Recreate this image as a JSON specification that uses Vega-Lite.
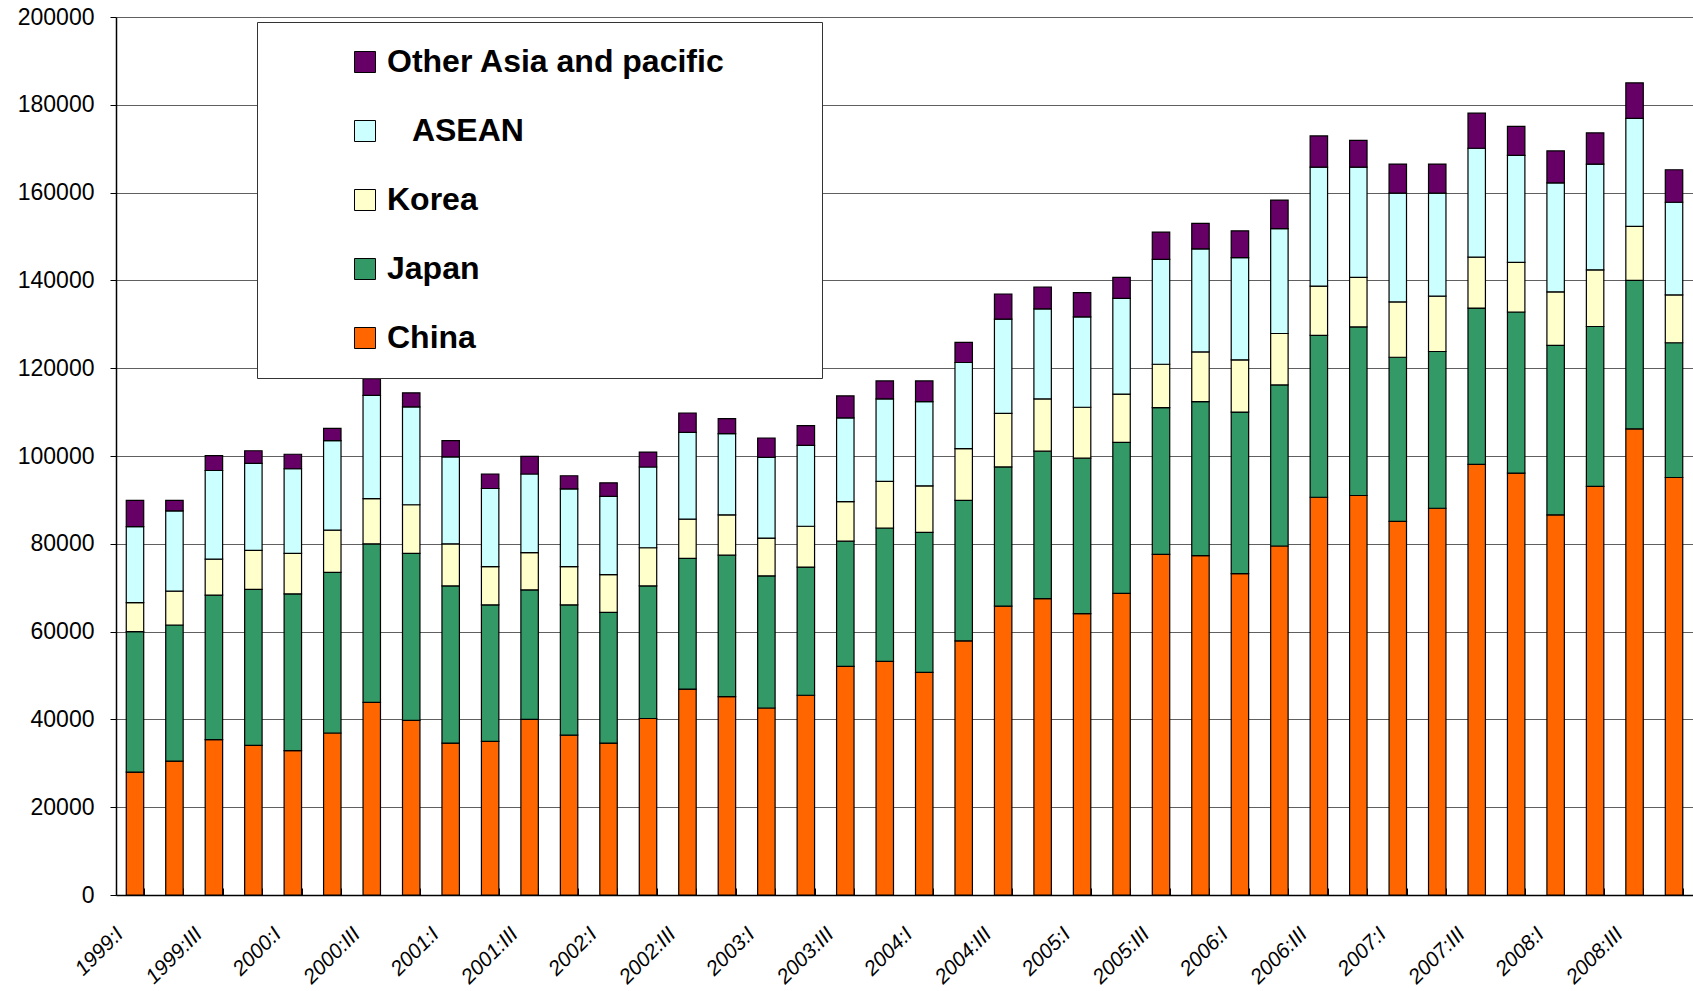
{
"$schema": "https://vega.github.io/schema/vega-lite/v6.json",
"autosize": {"type": "none"},
"padding": {"left": 116, "top": 17, "right": 0, "bottom": 96},
"width": 1577,
"height": 878,
"background": "#ffffff",
"config": {"view": {"stroke": null}},
"data": {"values": [
{"q":"1999:I","region":"China","v":28000},{"q":"1999:I","region":"Japan","v":32000},{"q":"1999:I","region":"Korea","v":6600},{"q":"1999:I","region":"ASEAN","v":17300},{"q":"1999:I","region":"Other Asia and pacific","v":6000},
{"q":"1999:II","region":"China","v":30500},{"q":"1999:II","region":"Japan","v":31000},{"q":"1999:II","region":"Korea","v":7700},{"q":"1999:II","region":"ASEAN","v":18300},{"q":"1999:II","region":"Other Asia and pacific","v":2400},
{"q":"1999:III","region":"China","v":35400},{"q":"1999:III","region":"Japan","v":32900},{"q":"1999:III","region":"Korea","v":8200},{"q":"1999:III","region":"ASEAN","v":20200},{"q":"1999:III","region":"Other Asia and pacific","v":3400},
{"q":"1999:IV","region":"China","v":34100},{"q":"1999:IV","region":"Japan","v":35500},{"q":"1999:IV","region":"Korea","v":8900},{"q":"1999:IV","region":"ASEAN","v":19800},{"q":"1999:IV","region":"Other Asia and pacific","v":2900},
{"q":"2000:I","region":"China","v":32900},{"q":"2000:I","region":"Japan","v":35700},{"q":"2000:I","region":"Korea","v":9200},{"q":"2000:I","region":"ASEAN","v":19300},{"q":"2000:I","region":"Other Asia and pacific","v":3300},
{"q":"2000:II","region":"China","v":36900},{"q":"2000:II","region":"Japan","v":36600},{"q":"2000:II","region":"Korea","v":9600},{"q":"2000:II","region":"ASEAN","v":20400},{"q":"2000:II","region":"Other Asia and pacific","v":2800},
{"q":"2000:III","region":"China","v":43900},{"q":"2000:III","region":"Japan","v":36100},{"q":"2000:III","region":"Korea","v":10300},{"q":"2000:III","region":"ASEAN","v":23500},{"q":"2000:III","region":"Other Asia and pacific","v":3800},
{"q":"2000:IV","region":"China","v":39800},{"q":"2000:IV","region":"Japan","v":38000},{"q":"2000:IV","region":"Korea","v":11100},{"q":"2000:IV","region":"ASEAN","v":22300},{"q":"2000:IV","region":"Other Asia and pacific","v":3200},
{"q":"2001:I","region":"China","v":34600},{"q":"2001:I","region":"Japan","v":35800},{"q":"2001:I","region":"Korea","v":9600},{"q":"2001:I","region":"ASEAN","v":19800},{"q":"2001:I","region":"Other Asia and pacific","v":3700},
{"q":"2001:II","region":"China","v":35000},{"q":"2001:II","region":"Japan","v":31100},{"q":"2001:II","region":"Korea","v":8700},{"q":"2001:II","region":"ASEAN","v":17800},{"q":"2001:II","region":"Other Asia and pacific","v":3300},
{"q":"2001:III","region":"China","v":40000},{"q":"2001:III","region":"Japan","v":29500},{"q":"2001:III","region":"Korea","v":8500},{"q":"2001:III","region":"ASEAN","v":17900},{"q":"2001:III","region":"Other Asia and pacific","v":4000},
{"q":"2001:IV","region":"China","v":36400},{"q":"2001:IV","region":"Japan","v":29700},{"q":"2001:IV","region":"Korea","v":8700},{"q":"2001:IV","region":"ASEAN","v":17700},{"q":"2001:IV","region":"Other Asia and pacific","v":3000},
{"q":"2002:I","region":"China","v":34600},{"q":"2002:I","region":"Japan","v":29800},{"q":"2002:I","region":"Korea","v":8600},{"q":"2002:I","region":"ASEAN","v":17800},{"q":"2002:I","region":"Other Asia and pacific","v":3100},
{"q":"2002:II","region":"China","v":40200},{"q":"2002:II","region":"Japan","v":30200},{"q":"2002:II","region":"Korea","v":8700},{"q":"2002:II","region":"ASEAN","v":18400},{"q":"2002:II","region":"Other Asia and pacific","v":3400},
{"q":"2002:III","region":"China","v":46900},{"q":"2002:III","region":"Japan","v":29800},{"q":"2002:III","region":"Korea","v":8900},{"q":"2002:III","region":"ASEAN","v":19800},{"q":"2002:III","region":"Other Asia and pacific","v":4400},
{"q":"2002:IV","region":"China","v":45200},{"q":"2002:IV","region":"Japan","v":32200},{"q":"2002:IV","region":"Korea","v":9200},{"q":"2002:IV","region":"ASEAN","v":18500},{"q":"2002:IV","region":"Other Asia and pacific","v":3400},
{"q":"2003:I","region":"China","v":42600},{"q":"2003:I","region":"Japan","v":30100},{"q":"2003:I","region":"Korea","v":8600},{"q":"2003:I","region":"ASEAN","v":18400},{"q":"2003:I","region":"Other Asia and pacific","v":4400},
{"q":"2003:II","region":"China","v":45500},{"q":"2003:II","region":"Japan","v":29200},{"q":"2003:II","region":"Korea","v":9300},{"q":"2003:II","region":"ASEAN","v":18400},{"q":"2003:II","region":"Other Asia and pacific","v":4500},
{"q":"2003:III","region":"China","v":52100},{"q":"2003:III","region":"Japan","v":28500},{"q":"2003:III","region":"Korea","v":9000},{"q":"2003:III","region":"ASEAN","v":19100},{"q":"2003:III","region":"Other Asia and pacific","v":5000},
{"q":"2003:IV","region":"China","v":53200},{"q":"2003:IV","region":"Japan","v":30400},{"q":"2003:IV","region":"Korea","v":10600},{"q":"2003:IV","region":"ASEAN","v":18800},{"q":"2003:IV","region":"Other Asia and pacific","v":4100},
{"q":"2004:I","region":"China","v":50700},{"q":"2004:I","region":"Japan","v":31900},{"q":"2004:I","region":"Korea","v":10600},{"q":"2004:I","region":"ASEAN","v":19200},{"q":"2004:I","region":"Other Asia and pacific","v":4700},
{"q":"2004:II","region":"China","v":57900},{"q":"2004:II","region":"Japan","v":32000},{"q":"2004:II","region":"Korea","v":11800},{"q":"2004:II","region":"ASEAN","v":19600},{"q":"2004:II","region":"Other Asia and pacific","v":4600},
{"q":"2004:III","region":"China","v":65800},{"q":"2004:III","region":"Japan","v":31700},{"q":"2004:III","region":"Korea","v":12200},{"q":"2004:III","region":"ASEAN","v":21500},{"q":"2004:III","region":"Other Asia and pacific","v":5700},
{"q":"2004:IV","region":"China","v":67500},{"q":"2004:IV","region":"Japan","v":33600},{"q":"2004:IV","region":"Korea","v":11900},{"q":"2004:IV","region":"ASEAN","v":20500},{"q":"2004:IV","region":"Other Asia and pacific","v":5000},
{"q":"2005:I","region":"China","v":64100},{"q":"2005:I","region":"Japan","v":35400},{"q":"2005:I","region":"Korea","v":11600},{"q":"2005:I","region":"ASEAN","v":20600},{"q":"2005:I","region":"Other Asia and pacific","v":5500},
{"q":"2005:II","region":"China","v":68700},{"q":"2005:II","region":"Japan","v":34400},{"q":"2005:II","region":"Korea","v":11000},{"q":"2005:II","region":"ASEAN","v":21800},{"q":"2005:II","region":"Other Asia and pacific","v":4800},
{"q":"2005:III","region":"China","v":77600},{"q":"2005:III","region":"Japan","v":33400},{"q":"2005:III","region":"Korea","v":9900},{"q":"2005:III","region":"ASEAN","v":23900},{"q":"2005:III","region":"Other Asia and pacific","v":6200},
{"q":"2005:IV","region":"China","v":77300},{"q":"2005:IV","region":"Japan","v":35100},{"q":"2005:IV","region":"Korea","v":11300},{"q":"2005:IV","region":"ASEAN","v":23500},{"q":"2005:IV","region":"Other Asia and pacific","v":5800},
{"q":"2006:I","region":"China","v":73200},{"q":"2006:I","region":"Japan","v":36800},{"q":"2006:I","region":"Korea","v":11900},{"q":"2006:I","region":"ASEAN","v":23300},{"q":"2006:I","region":"Other Asia and pacific","v":6100},
{"q":"2006:II","region":"China","v":79500},{"q":"2006:II","region":"Japan","v":36700},{"q":"2006:II","region":"Korea","v":11700},{"q":"2006:II","region":"ASEAN","v":23900},{"q":"2006:II","region":"Other Asia and pacific","v":6500},
{"q":"2006:III","region":"China","v":90600},{"q":"2006:III","region":"Japan","v":36900},{"q":"2006:III","region":"Korea","v":11200},{"q":"2006:III","region":"ASEAN","v":27100},{"q":"2006:III","region":"Other Asia and pacific","v":7100},
{"q":"2006:IV","region":"China","v":91000},{"q":"2006:IV","region":"Japan","v":38400},{"q":"2006:IV","region":"Korea","v":11300},{"q":"2006:IV","region":"ASEAN","v":25100},{"q":"2006:IV","region":"Other Asia and pacific","v":6100},
{"q":"2007:I","region":"China","v":85100},{"q":"2007:I","region":"Japan","v":37400},{"q":"2007:I","region":"Korea","v":12600},{"q":"2007:I","region":"ASEAN","v":24800},{"q":"2007:I","region":"Other Asia and pacific","v":6600},
{"q":"2007:II","region":"China","v":88100},{"q":"2007:II","region":"Japan","v":35700},{"q":"2007:II","region":"Korea","v":12600},{"q":"2007:II","region":"ASEAN","v":23500},{"q":"2007:II","region":"Other Asia and pacific","v":6600},
{"q":"2007:III","region":"China","v":98100},{"q":"2007:III","region":"Japan","v":35600},{"q":"2007:III","region":"Korea","v":11600},{"q":"2007:III","region":"ASEAN","v":24800},{"q":"2007:III","region":"Other Asia and pacific","v":8000},
{"q":"2007:IV","region":"China","v":96100},{"q":"2007:IV","region":"Japan","v":36700},{"q":"2007:IV","region":"Korea","v":11300},{"q":"2007:IV","region":"ASEAN","v":24400},{"q":"2007:IV","region":"Other Asia and pacific","v":6600},
{"q":"2008:I","region":"China","v":86600},{"q":"2008:I","region":"Japan","v":38600},{"q":"2008:I","region":"Korea","v":12200},{"q":"2008:I","region":"ASEAN","v":24800},{"q":"2008:I","region":"Other Asia and pacific","v":7300},
{"q":"2008:II","region":"China","v":93100},{"q":"2008:II","region":"Japan","v":36400},{"q":"2008:II","region":"Korea","v":12900},{"q":"2008:II","region":"ASEAN","v":24100},{"q":"2008:II","region":"Other Asia and pacific","v":7100},
{"q":"2008:III","region":"China","v":106200},{"q":"2008:III","region":"Japan","v":33800},{"q":"2008:III","region":"Korea","v":12300},{"q":"2008:III","region":"ASEAN","v":24600},{"q":"2008:III","region":"Other Asia and pacific","v":8100},
{"q":"2008:IV","region":"China","v":95100},{"q":"2008:IV","region":"Japan","v":30700},{"q":"2008:IV","region":"Korea","v":10900},{"q":"2008:IV","region":"ASEAN","v":21100},{"q":"2008:IV","region":"Other Asia and pacific","v":7400}
]},
"transform": [{"calculate": "indexof(['China','Japan','Korea','ASEAN','Other Asia and pacific'], datum.region)", "as": "ord"}],
"mark": {"type": "bar", "stroke": "#000000", "strokeWidth": 1.2},
"encoding": {
"x": {"field": "q", "type": "ordinal", "sort": null,
 "scale": {"paddingInner": 0.558, "paddingOuter": 0.26},
 "axis": {"title": null, "labelAngle": -45, "labelFont": "Liberation Sans", "labelFontStyle": "italic", "labelFontSize": 21, "labelColor": "#000000",
  "labelExpr": "(isString(datum.value) && (slice(datum.value, 5) == 'I' || slice(datum.value, 5) == 'III')) ? datum.value : ''",
  "tickBand": "extent", "tickSize": -7, "tickColor": "#000000", "domainColor": "#000000", "domainWidth": 1.5,
  "labelPadding": 35, "labelOffset": -23, "grid": false}},
"y": {"field": "v", "type": "quantitative", "stack": "zero",
 "scale": {"domain": [0, 200000], "nice": false},
 "axis": {"title": null, "values": [0,20000,40000,60000,80000,100000,120000,140000,160000,180000,200000], "format": "d",
  "labelFont": "Liberation Sans", "labelFontSize": 23, "labelColor": "#000000", "gridColor": "#606060", "gridWidth": 1,
  "tickColor": "#000000", "tickSize": 6, "labelPadding": 16, "domainColor": "#000000", "domainWidth": 1.5}},
"color": {"field": "region", "type": "nominal",
 "sort": ["Other Asia and pacific", "ASEAN", "Korea", "Japan", "China"],
 "scale": {"domain": ["Other Asia and pacific", "ASEAN", "Korea", "Japan", "China"], "range": ["#660066", "#CCFFFF", "#FFFFCC", "#339966", "#FF6600"]},
 "legend": {"orient": "none", "legendX": 141, "legendY": 5, "direction": "vertical", "title": null,
  "symbolType": "square", "symbolSize": 441, "symbolStrokeColor": "#000000", "symbolStrokeWidth": 1, "symbolOpacity": 1,
  "labelFont": "Liberation Sans", "labelFontSize": 32, "labelFontWeight": "bold", "labelColor": "#000000", "labelLimit": 800,
  "labelExpr": "datum.label == 'ASEAN' ? '\u200b\u2002\u00a0ASEAN' : (datum.label == 'Other Asia and pacific' ? 'Other Asia and pacific\u3000\u3000\u00a0\u200b' : datum.label)",
  "rowPadding": 37, "padding": 24, "symbolOffset": 68, "labelOffset": 6,
  "strokeColor": "#333333", "fillColor": "#ffffff"}},
"order": {"field": "ord", "type": "quantitative"}
}
}
